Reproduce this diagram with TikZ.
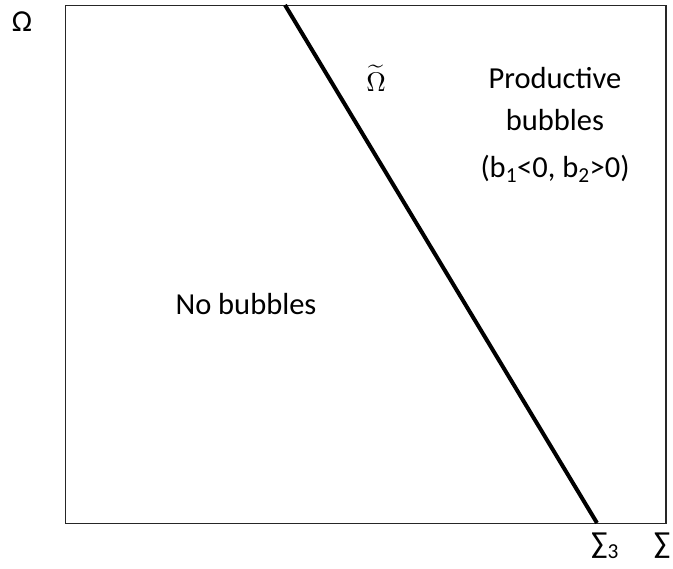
\documentclass[tikz,border=0pt]{standalone}
\usepackage{fontspec}
\setmainfont{Carlito}
\usetikzlibrary{positioning}
\tikzset{
  frame/.style={draw=black!85, line width=1.6pt},
  boundary/.style={draw=black, line width=4pt},
  lbl/.style={font=\fontsize{30.5}{42}\selectfont, inner sep=0pt, align=center},
}
\begin{document}
\begin{tikzpicture}[x=1pt,y=-1pt]
    \useasboundingbox (0,0) rectangle (673,569);
    \draw[frame] (65.5,5.5) rectangle (666,523.5);
    \coordinate (top) at (285,5);
    \coordinate (bot) at (597,523);
    \draw[boundary] (top) -- (bot);
    \node[lbl] (omega) at (22,22) {Ω};
    \node[inner sep=0pt] (omtilde) at (376,78) {\scalebox{2.7}{$\widetilde{\Omega}$}};
    \node[lbl] (prod) at (555,99) {Productive\\bubbles};
    \node[lbl, below=24pt of prod] (cond) {(b\textsubscript{1}<0, b\textsubscript{2}>0)};
    \node[lbl] (nob) at (246,304) {No bubbles};
    \node[lbl] (sig3) at (605,546) {∑\textsubscript{3}};
    \node[lbl] (sig) at (662,546) {∑};
\end{tikzpicture}
\end{document}
